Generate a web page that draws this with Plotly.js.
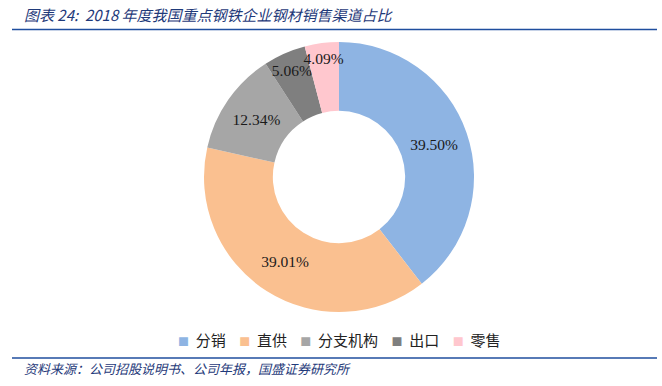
<!DOCTYPE html>
<html>
<head>
<meta charset="utf-8">
<script src="https://cdn.plot.ly/plotly-3.0.1.min.js"></script>
<style>html,body{margin:0;padding:0;background:#fff;}#chart{width:662px;height:386px;}</style>
</head>
<body>
<div id="chart"></div>
<script>
const categories = ["分销", "直供", "分支机构", "出口", "零售"];
const shares = [39.50, 39.01, 12.34, 5.06, 4.09];
const colors = ["#8eb4e3", "#fac090", "#a6a6a6", "#7f7f7f", "#ffc7ce"];
const titleText = "图表 24:  2018 年度我国重点钢铁企业钢材销售渠道占比";
const sourceText = "资料来源：公司招股说明书、公司年报，国盛证券研究所";

const W = 662, H = 386;
const cx = 339, cy = 177, R = 135;

const trace = {
  type: "pie",
  labels: categories,
  values: shares,
  text: shares.map(v => v.toFixed(2) + "%"),
  textinfo: "text",
  textposition: "inside",
  insidetextorientation: "horizontal",
  hole: 0.49,
  sort: false,
  direction: "clockwise",
  rotation: 0,
  marker: {colors: colors, line: {width: 0}},
  textfont: {family: "Liberation Serif, serif", size: 15.5, color: "#1a1a1a"},
  domain: {x: [(cx - R) / W, (cx + R) / W], y: [1 - (cy + R) / H, 1 - (cy - R) / H]},
  showlegend: false
};

const legendText = categories.map((c, i) =>
  '<span style="color:' + colors[i] + ';font-size:11px">■</span>  ' + c
).join("    ");

const layout = {
  width: W, height: H,
  margin: {l: 0, r: 0, t: 0, b: 0},
  paper_bgcolor: "#ffffff",
  showlegend: false,
  uniformtext: {minsize: 15.5, mode: "show"},
  shapes: [
    {type: "line", xref: "paper", yref: "paper", x0: 12 / W, x1: 657 / W, y0: 1 - 29.5 / H, y1: 1 - 29.5 / H, line: {color: "#1f4e9e", width: 1.6}},
    {type: "line", xref: "paper", yref: "paper", x0: 12 / W, x1: 657 / W, y0: 1 - 358 / H, y1: 1 - 358 / H, line: {color: "#1f4e9e", width: 1.6}}
  ],
  annotations: [
    {text: "<i>" + titleText + "</i>", xref: "paper", yref: "paper", x: 22 / W, y: 1 - 14 / H, xanchor: "left", yanchor: "middle", showarrow: false,
     font: {family: "Noto Sans CJK SC", size: 15, color: "#1f3a7a"}},
    {text: legendText, xref: "paper", yref: "paper", x: 339 / W, y: 1 - 339 / H, xanchor: "center", yanchor: "middle", showarrow: false,
     font: {family: "Noto Sans CJK SC", size: 15, color: "#222"}},
    {text: "<i>" + sourceText + "</i>", xref: "paper", yref: "paper", x: 22 / W, y: 1 - 368 / H, xanchor: "left", yanchor: "middle", showarrow: false,
     font: {family: "Noto Sans CJK SC", size: 13, color: "#1f3a7a"}}
  ]
};

Plotly.newPlot("chart", [trace], layout, {displayModeBar: false, staticPlot: true});
</script>
</body>
</html>
